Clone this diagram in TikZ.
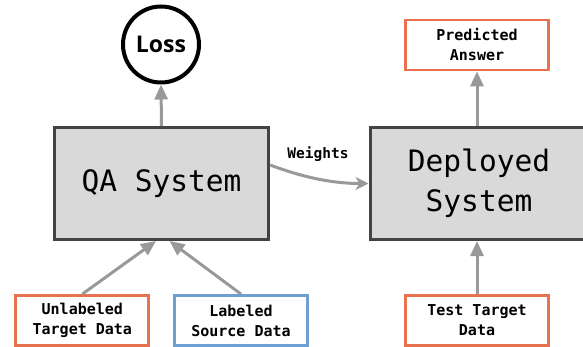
\documentclass[tikz,border=0pt]{standalone}
\usepackage{fontspec}
\setmonofont{DejaVu Sans Mono}
\newfontfamily\lossfont{Open Sans}
\usetikzlibrary{arrows.meta,calc}
\definecolor{orng}{RGB}{232,114,79}
\definecolor{blu}{RGB}{109,158,212}
\definecolor{boxgray}{RGB}{217,217,217}
\definecolor{boxedge}{RGB}{67,67,67}
\definecolor{arrgray}{RGB}{153,153,153}
\begin{document}
\begin{tikzpicture}[x=1pt,y=-1pt,
  bigbox/.style={draw=boxedge,fill=boxgray,line width=3pt,minimum width=214pt,minimum height=112pt,inner sep=0pt,align=center,font=\fontsize{29.5}{40}\ttfamily},
  databox/.style={draw=#1,fill=white,line width=2.8pt,minimum width=133pt,minimum height=50pt,inner sep=0pt,align=center,font=\fontsize{15}{20}\ttfamily\bfseries},
  flow/.style={draw=arrgray,line width=3pt,-{Triangle[length=15pt,width=13pt]}},
  curvedflow/.style={draw=arrgray,line width=3pt,-{Stealth[length=13pt,width=13pt,inset=4pt]}},
]
\useasboundingbox (0,0) rectangle (583,347);
\node[circle,draw=black,line width=4pt,minimum size=76pt,inner sep=0pt,font={\fontsize{23}{26}\lossfont\bfseries}] (loss) at (161,44.5) {Loss};
\node[bigbox] (qa) at (161.5,183.5) {QA System};
\node[bigbox,minimum width=218pt] (dep) at (479,183.5) {Deployed\\System};
\node[databox=orng,minimum width=143pt] (pred) at (477,45) {Predicted\\Answer};
\node[databox=orng] (unl) at (82.3,320.5) {Unlabeled\\Target Data};
\node[databox=blu] (lab) at (241,320.5) {Labeled\\Source Data};
\node[databox=orng,minimum width=143pt] (test) at (477,320.5) {Test Target\\Data};
\node[font=\fontsize{14.5}{17}\ttfamily\bfseries] (w) at (318,154) {Weights};
\draw[flow] (qa.north) -- (loss.south);
\draw[flow] (pred.south |- dep.north) -- (pred.south);
\draw[flow] (test.north) -- (test.north |- dep.south);
\draw[flow] (unl.north) -- ($(qa.south)+(-5.5,0)$);
\draw[flow] (lab.north) -- ($(qa.south)+(8,0)$);
\draw[curvedflow] ($(qa.east)+(0,-18.5)$) .. controls +(35,13) and +(-35,0) .. (dep.west);
\end{tikzpicture}
\end{document}
